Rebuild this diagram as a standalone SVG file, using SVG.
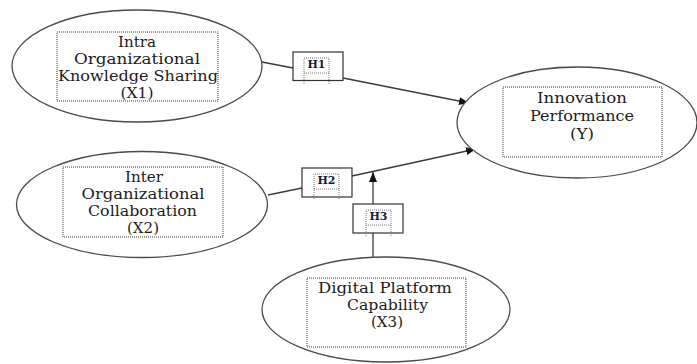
<svg xmlns="http://www.w3.org/2000/svg" width="697" height="364" viewBox="0 0 697 364">
  <style>
    .oval { fill: #ffffff; stroke: #4a4a4a; stroke-width: 1.3; }
    .frame { fill: none; stroke: #222222; stroke-width: 0.9; stroke-dasharray: 1 1; }
    .lbl { font-family: "DejaVu Serif", "Liberation Serif", serif; font-size: 15px; fill: #1c1c1c; text-anchor: middle; }
    .hbox { fill: #ffffff; stroke: #333333; stroke-width: 1.2; }
    .htxt { font-family: "DejaVu Serif", "Liberation Serif", serif; font-size: 11px; font-weight: bold; fill: #1a1a3a; text-anchor: middle; }
    .hdot { fill: none; stroke: #555555; stroke-width: 0.8; stroke-dasharray: 1 1; }
    .link { fill: none; stroke: #3a3a3a; stroke-width: 1.3; }
  </style>
  <defs>
    <marker id="arrow" viewBox="0 0 10 8" refX="10" refY="4" markerWidth="10" markerHeight="8" markerUnits="userSpaceOnUse" orient="auto">
      <path d="M0,0 L10,4 L0,8 Z" fill="#111111"/>
    </marker>
  </defs>

  <!-- connectors -->
  <g id="connectors">
    <line class="link" x1="262" y1="62" x2="293" y2="68"/>
    <line class="link" x1="343" y1="78" x2="469" y2="103" marker-end="url(#arrow)"/>
    <line class="link" x1="268" y1="195" x2="302" y2="188"/>
    <line class="link" x1="352" y1="176" x2="476" y2="149" marker-end="url(#arrow)"/>
    <line class="link" x1="373" y1="257" x2="373" y2="233"/>
    <line class="link" x1="373" y1="204" x2="373" y2="172" marker-end="url(#arrow)"/>
  </g>

  <!-- X1 -->
  <g id="node-x1">
    <ellipse class="oval" cx="137" cy="66" rx="125" ry="56"/>
    <rect class="frame" x="57" y="32" width="161" height="69"/>
    <text class="lbl" x="137" y="46.5" textLength="38" lengthAdjust="spacingAndGlyphs">Intra</text>
    <text class="lbl" x="137" y="63.5" textLength="126" lengthAdjust="spacingAndGlyphs">Organizational</text>
    <text class="lbl" x="138" y="81" textLength="160" lengthAdjust="spacingAndGlyphs">Knowledge Sharing</text>
    <text class="lbl" x="137" y="98" textLength="33" lengthAdjust="spacingAndGlyphs">(X1)</text>
  </g>

  <!-- X2 -->
  <g id="node-x2">
    <ellipse class="oval" cx="142" cy="204.5" rx="125.5" ry="53"/>
    <rect class="frame" x="63" y="167" width="160" height="70"/>
    <text class="lbl" x="144" y="182" textLength="38" lengthAdjust="spacingAndGlyphs">Inter</text>
    <text class="lbl" x="143" y="199" textLength="123" lengthAdjust="spacingAndGlyphs">Organizational</text>
    <text class="lbl" x="142.5" y="216" textLength="109" lengthAdjust="spacingAndGlyphs">Collaboration</text>
    <text class="lbl" x="143" y="233" textLength="32" lengthAdjust="spacingAndGlyphs">(X2)</text>
  </g>

  <!-- Y -->
  <g id="node-y">
    <ellipse class="oval" cx="577" cy="122.5" rx="120" ry="55.5"/>
    <rect class="frame" x="503" y="87" width="159" height="70"/>
    <text class="lbl" x="582" y="103" textLength="90" lengthAdjust="spacingAndGlyphs">Innovation</text>
    <text class="lbl" x="582" y="120.5" textLength="104" lengthAdjust="spacingAndGlyphs">Performance</text>
    <text class="lbl" x="582" y="139" textLength="24" lengthAdjust="spacingAndGlyphs">(Y)</text>
  </g>

  <!-- X3 -->
  <g id="node-x3">
    <ellipse class="oval" cx="386" cy="309.5" rx="124" ry="52.5"/>
    <rect class="frame" x="307" y="278" width="159" height="69"/>
    <text class="lbl" x="385" y="293" textLength="134" lengthAdjust="spacingAndGlyphs">Digital Platform</text>
    <text class="lbl" x="387.5" y="310" textLength="81" lengthAdjust="spacingAndGlyphs">Capability</text>
    <text class="lbl" x="387" y="327" textLength="32" lengthAdjust="spacingAndGlyphs">(X3)</text>
  </g>

  <!-- H1 -->
  <g id="label-h1">
    <rect class="hbox" x="293" y="52" width="50" height="28.5"/>
    <path class="hdot" d="M304,84 V58 H329 V84 M304,73 H329"/>
    <text class="htxt" x="316.5" y="68">H1</text>
  </g>

  <!-- H2 -->
  <g id="label-h2">
    <rect class="hbox" x="302" y="168" width="50" height="29"/>
    <path class="hdot" d="M314,199 V174 H339 V199 M314,189 H339"/>
    <text class="htxt" x="326.5" y="183.5">H2</text>
  </g>

  <!-- H3 -->
  <g id="label-h3">
    <rect class="hbox" x="353" y="204" width="50" height="29"/>
    <path class="hdot" d="M366,236 V210 H391 V236 M366,225 H391"/>
    <text class="htxt" x="378.5" y="219.5">H3</text>
  </g>
</svg>
